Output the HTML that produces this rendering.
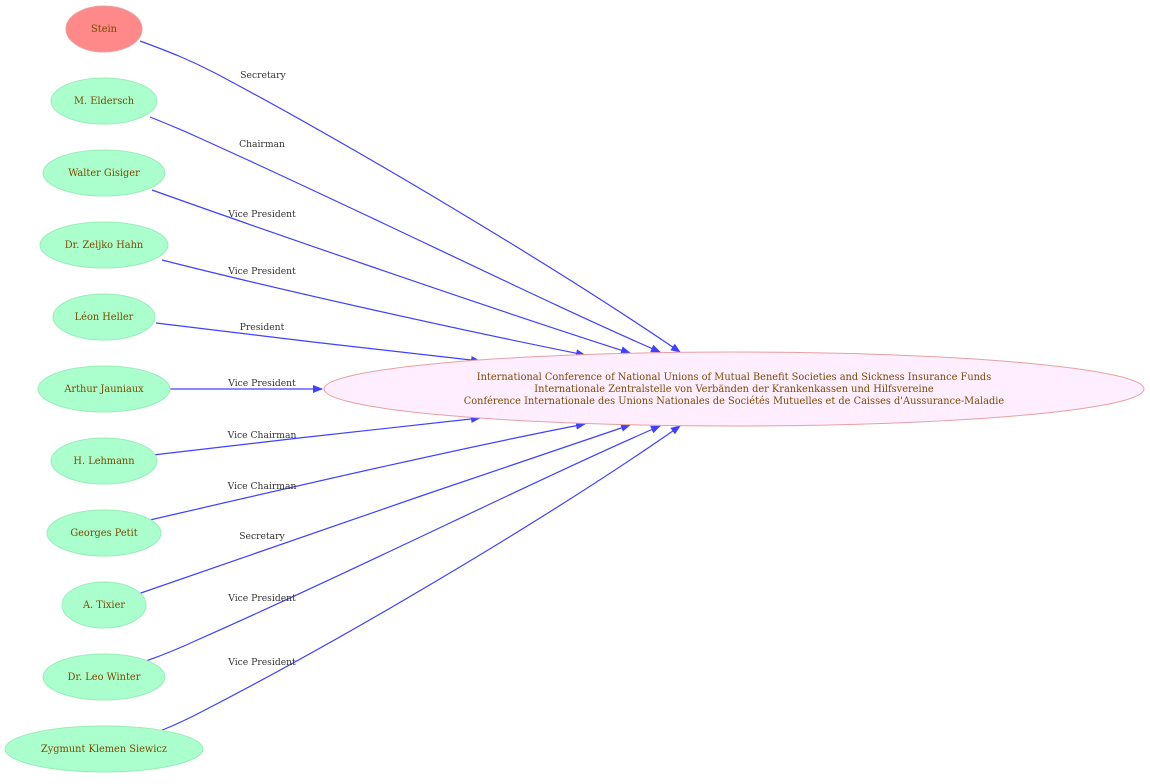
<!DOCTYPE html>
<html><head><meta charset="utf-8"><style>html,body{margin:0;padding:0;background:#fff}</style></head>
<body>
<svg width="1150" height="779" viewBox="0 0 1150 779" xmlns="http://www.w3.org/2000/svg" font-family="DejaVu Serif, serif">
<defs><marker id="a" markerWidth="10" markerHeight="8" refX="9" refY="4" orient="auto" markerUnits="userSpaceOnUse"><path d="M0,0 L10,4 L0,8 z" fill="#4040ff"/></marker></defs>
<g fill="none" stroke="#4040ff" stroke-width="1.2" marker-end="url(#a)">
<path d="M140,41 C170,52 190,60 215,73 C360,150 560,270 680,352"/>
<path d="M150,117 C165,123 180,129 195,136 C360,210 540,300 660,352"/>
<path d="M152,190 C250,225 480,305 630,353"/>
<path d="M162,260 C280,290 460,330 585,355"/>
<path d="M156,323 C250,335 390,351 480,361"/>
<path d="M170,389 L322,389"/>
<path d="M153,455 C250,443 390,428 480,418"/>
<path d="M150,520 C280,490 460,448 585,424"/>
<path d="M138,594 C250,555 480,475 630,425"/>
<path d="M146,661 C160,656 180,648 195,641 C360,568 540,478 660,426"/>
<path d="M160,731 C175,725 190,718 205,710 C360,630 560,510 680,426"/>
</g>
<g font-size="9.2" fill="#333" text-anchor="middle">
<text x="263" y="78">Secretary</text>
<text x="262" y="147">Chairman</text>
<text x="262" y="217">Vice President</text>
<text x="262" y="274">Vice President</text>
<text x="262" y="330">President</text>
<text x="262" y="386">Vice President</text>
<text x="262" y="438">Vice Chairman</text>
<text x="262" y="489">Vice Chairman</text>
<text x="262" y="539">Secretary</text>
<text x="262" y="601">Vice President</text>
<text x="262" y="665">Vice President</text>
</g>
<g stroke="#99eebb" fill="#aaffcc">
<ellipse cx="104" cy="29" rx="38" ry="23" fill="#ff8888" stroke="#e8a0a0"/>
<ellipse cx="104" cy="101" rx="53" ry="23"/>
<ellipse cx="104" cy="173" rx="61" ry="23"/>
<ellipse cx="104" cy="245" rx="64" ry="23"/>
<ellipse cx="104" cy="317" rx="51" ry="23"/>
<ellipse cx="104" cy="389" rx="66" ry="23"/>
<ellipse cx="104" cy="461" rx="53" ry="23"/>
<ellipse cx="104" cy="533" rx="57" ry="23"/>
<ellipse cx="104" cy="605" rx="42" ry="23"/>
<ellipse cx="104" cy="677" rx="61" ry="23"/>
<ellipse cx="104" cy="749" rx="99" ry="23"/>
<ellipse cx="734" cy="389" rx="410" ry="37" fill="#ffeeff" stroke="#e8a0a0"/>
</g>
<g font-size="9.8" fill="#7a4a00" text-anchor="middle">
<text x="104" y="32">Stein</text>
<text x="104" y="104">M. Eldersch</text>
<text x="104" y="176">Walter Gisiger</text>
<text x="104" y="248">Dr. Zeljko Hahn</text>
<text x="104" y="320">Léon Heller</text>
<text x="104" y="392">Arthur Jauniaux</text>
<text x="104" y="464">H. Lehmann</text>
<text x="104" y="536">Georges Petit</text>
<text x="104" y="608">A.  Tixier</text>
<text x="104" y="680">Dr. Leo Winter</text>
<text x="104" y="752">Zygmunt Klemen Siewicz</text>
<text x="734" y="380">International Conference of National Unions of Mutual Benefit Societies and Sickness Insurance Funds</text>
<text x="734" y="392">Internationale Zentralstelle von Verbänden der Krankenkassen und Hilfsvereine</text>
<text x="734" y="404">Conférence Internationale des Unions Nationales de Sociétés Mutuelles et de Caisses d'Aussurance-Maladie</text>
</g>
</svg>
</body></html>
